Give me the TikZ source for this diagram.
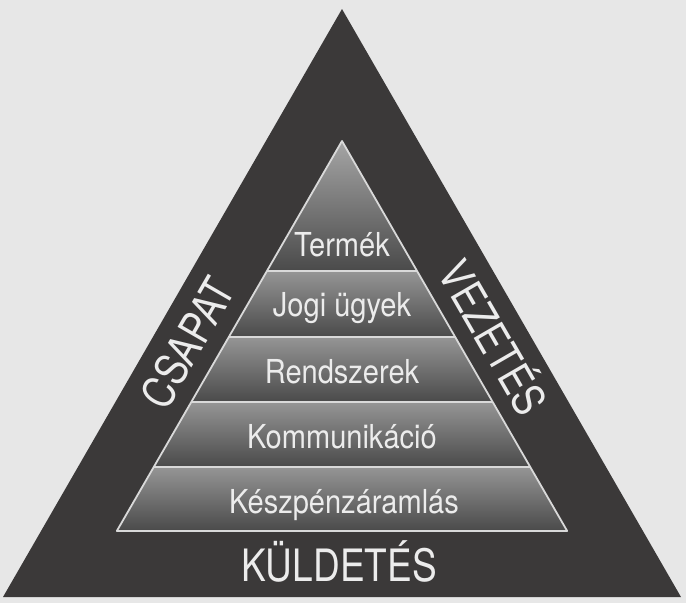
\documentclass[tikz,border=0pt]{standalone}
\usepackage{fontspec}
\setmainfont{TeX Gyre Heros}[FakeStretch=0.83]
\newfontfamily\innerfont{TeX Gyre Heros}[FakeStretch=0.88]
\definecolor{bgc}{HTML}{E7E7E7}
\definecolor{outerc}{HTML}{3B3939}
\definecolor{bandtop}{HTML}{959595}
\definecolor{bandbot}{HTML}{4A4A4A}
\definecolor{apextop}{HTML}{A5A5A5}
\definecolor{linec}{HTML}{D9D9D9}
\definecolor{textc}{HTML}{ECECEC}
\begin{document}
\begin{tikzpicture}[x=1pt,y=-1pt,
  band/.style={top color=bandtop,bottom color=bandbot},
  sepline/.style={draw=linec,line width=1.8pt,line join=round},
  innerlabel/.style={text=textc,anchor=base,inner sep=0pt,font=\innerfont\fontsize{33}{33}\selectfont},
  outerlabel/.style={text=textc,inner sep=0pt,text height=32pt,text depth=0pt,font=\fontsize{44.6}{44.6}\selectfont}]
\useasboundingbox (0,0) rectangle (686,603);
\fill[bgc] (0,0) rectangle (686,603);
% outer triangle
\coordinate (A) at (342,9);
\coordinate (BL) at (3,597);
\coordinate (BR) at (681,597);
\fill[outerc] (A) -- (BL) -- (BR) -- cycle;
% inner pyramid points
\coordinate (P0) at (342,141);
\coordinate (L1) at (266.94,271); \coordinate (R1) at (417.06,271);
\coordinate (L2) at (228.83,337); \coordinate (R2) at (455.17,337);
\coordinate (L3) at (191.30,402); \coordinate (R3) at (492.70,402);
\coordinate (L4) at (153.77,467); \coordinate (R4) at (530.23,467);
\coordinate (L5) at (116.81,531); \coordinate (R5) at (567.19,531);
\shade[top color=apextop,bottom color=bandbot] (P0) -- (L1) -- (R1) -- cycle;
\shade[band] (L1) -- (L2) -- (R2) -- (R1) -- cycle;
\shade[band] (L2) -- (L3) -- (R3) -- (R2) -- cycle;
\shade[band] (L3) -- (L4) -- (R4) -- (R3) -- cycle;
\shade[band] (L4) -- (L5) -- (R5) -- (R4) -- cycle;
% white lines
\draw[sepline] (P0) -- (L5) -- (R5) -- cycle;
\draw[sepline] (L1) -- (R1);
\draw[sepline] (L2) -- (R2);
\draw[sepline] (L3) -- (R3);
\draw[sepline] (L4) -- (R4);
% labels
\node[innerlabel] (t1) at (342,256) {Termék};
\node[innerlabel] (t2) at (342,316) {Jogi ügyek};
\node[innerlabel] (t3) at (342,383) {Rendszerek};
\node[innerlabel] (t4) at (342,448) {Kommunikáció};
\node[innerlabel] (t5) at (344,513) {Készpénzáramlás};
\node[outerlabel,anchor=base] (kd) at (339,581) {KÜLDETÉS};
\node[outerlabel,rotate=60] (cs) at (188,343) {CSAPAT};
\node[outerlabel,rotate=-60] (vz) at (493,338) {VEZETÉS};
\end{tikzpicture}
\end{document}
